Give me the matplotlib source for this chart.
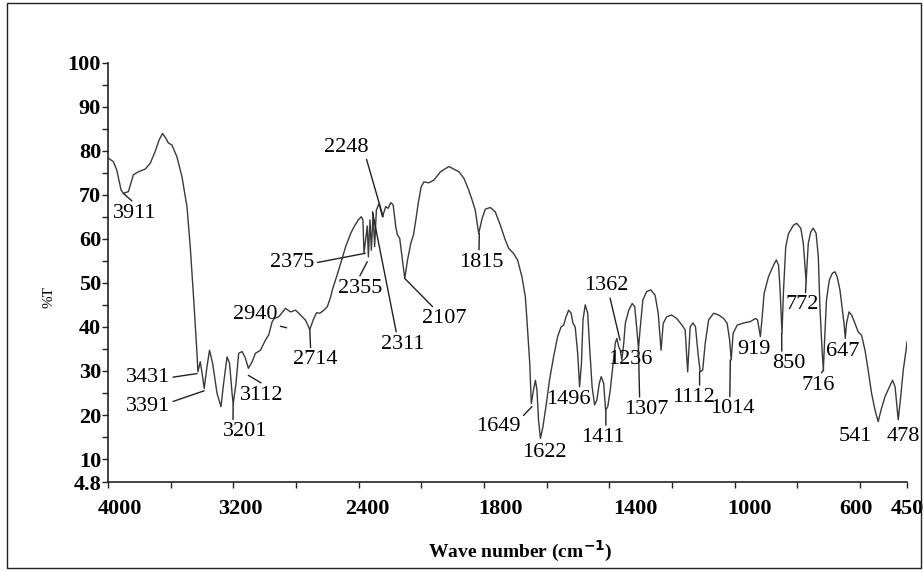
import numpy as np
import matplotlib
matplotlib.use('Agg')
import matplotlib.pyplot as plt
import matplotlib.transforms as mtransforms
from matplotlib.patches import Rectangle

# IR spectrum: wave number (cm-1) and %T
wavenumber = [3998, 3966, 3944, 3917, 3902, 3870, 3838, 3806, 3763, 3731, 3699, 3674, 3652, 3631,
              3614, 3592, 3560, 3528, 3496, 3475, 3454, 3432, 3426, 3411, 3396, 3386, 3368, 3352,
              3332, 3304, 3279, 3262, 3240, 3224, 3208, 3201, 3183, 3166, 3144, 3123, 3104, 3080,
              3059, 3027, 2995, 2974, 2952, 2938, 2910, 2867, 2835, 2803, 2771, 2739, 2712, 2690,
              2669, 2647, 2622, 2600, 2579, 2568, 2541, 2515, 2483, 2451, 2430, 2402, 2383, 2373,
              2366, 2345, 2338, 2328, 2319, 2308, 2298, 2287, 2270, 2248, 2227, 2212, 2195, 2180,
              2163, 2153, 2138, 2121, 2106, 2088, 2067, 2050, 2035, 2020, 2001, 1992, 1976, 1960,
              1939, 1912, 1896, 1880, 1864, 1849, 1838, 1828, 1817, 1806, 1796, 1780, 1764, 1748,
              1732, 1721, 1706, 1693, 1679, 1668, 1663, 1654, 1649, 1642, 1636, 1631, 1626, 1620,
              1612, 1601, 1591, 1578, 1565, 1554, 1546, 1538, 1530, 1522, 1516, 1509, 1501, 1495,
              1489, 1484, 1477, 1469, 1463, 1455, 1447, 1440, 1432, 1426, 1418, 1412, 1405, 1397,
              1388, 1381, 1376, 1370, 1365, 1360, 1354, 1349, 1338, 1327, 1319, 1312, 1307, 1302,
              1293, 1281, 1268, 1254, 1244, 1235, 1228, 1217, 1201, 1185, 1168, 1158, 1150, 1142,
              1133, 1125, 1117, 1110, 1102, 1094, 1083, 1067, 1051, 1035, 1024, 1016, 1011, 1005,
              992, 971, 950, 934, 927, 918, 913, 906, 892, 876, 867, 860, 855, 849, 844, 837, 828,
              812, 802, 789, 781, 772, 765, 757, 749, 740, 733, 728, 721, 717, 712, 707, 698, 688,
              680, 673, 664, 656, 651, 647, 643, 635, 627, 616, 606, 595, 584, 574, 563, 552, 542,
              533, 520, 506, 496, 488, 483, 478, 470, 462, 453, 450]
transmittance = [78.3, 77.5, 75.6, 71.1, 70.3, 70.7, 74.5, 75.2, 75.8, 77.1, 79.8, 82.4, 83.9, 82.8,
                 81.7, 81.3, 78.6, 74.1, 67.3, 58.2, 46.8, 34.0, 29.8, 32.1, 28.7, 26.0, 31.0, 34.7,
                 31.7, 24.9, 21.9, 27.2, 33.2, 31.7, 24.9, 22.5, 27.2, 34.0, 34.4, 32.9, 30.6, 32.1,
                 34.0, 34.7, 37.0, 38.2, 41.2, 41.9, 42.3, 44.2, 43.4, 43.8, 42.7, 41.5, 39.4, 41.6,
                 43.2, 43.1, 43.8, 44.6, 46.8, 48.4, 51.4, 54.4, 58.2, 61.2, 62.7, 64.3, 65.0, 64.3,
                 56.7, 62.9, 55.9, 64.3, 57.4, 65.8, 58.2, 66.5, 68.0, 65.0, 67.3, 66.9, 68.2, 67.7,
                 62.7, 60.9, 60.1, 55.2, 51.0, 55.2, 59.0, 60.9, 64.3, 68.0, 71.8, 72.9, 72.7, 73.3,
                 75.2, 76.4, 75.8, 75.2, 73.7, 71.1, 68.8, 66.5, 61.2, 64.6, 66.7, 67.1, 66.1, 63.1,
                 59.7, 57.8, 56.7, 55.2, 51.4, 46.8, 41.6, 31.7, 22.6, 25.7, 27.9, 25.7, 18.9, 14.7,
                 17.3, 22.6, 27.9, 33.2, 37.8, 40.0, 40.4, 42.3, 43.8, 43.1, 40.8, 40.0, 34.0, 26.4,
                 31.7, 41.6, 45.0, 43.1, 35.5, 26.4, 22.3, 23.4, 27.2, 28.7, 27.2, 21.1, 21.9, 25.7,
                 31.7, 36.3, 37.4, 35.5, 34.7, 32.5, 36.3, 40.8, 43.8, 45.3, 44.6, 39.3, 35.0, 39.3,
                 46.1, 48.0, 48.4, 47.2, 43.1, 34.7, 40.8, 42.3, 42.7, 41.9, 40.4, 39.3, 29.8, 40.0,
                 40.9, 40.0, 34.0, 29.8, 30.2, 36.3, 41.6, 43.1, 42.7, 41.9, 40.8, 37.0, 32.5, 38.5,
                 40.4, 40.9, 41.2, 41.9, 41.6, 37.8, 41.6, 47.6, 51.4, 54.0, 55.2, 54.0, 48.4, 38.5,
                 48.4, 58.2, 61.2, 63.1, 63.5, 62.4, 59.0, 50.3, 59.0, 61.6, 62.4, 61.2, 55.9, 44.6,
                 34.7, 30.2, 38.5, 46.1, 50.6, 52.2, 52.5, 51.4, 48.4, 43.8, 40.8, 37.4, 40.8, 43.4,
                 42.7, 40.8, 38.9, 38.1, 34.7, 30.2, 24.9, 21.1, 18.5, 21.1, 24.2, 26.4, 27.9, 26.4,
                 22.6, 18.9, 24.2, 30.2, 34.7, 36.6]

# peak labels
peak_labels = ['3911', '3431', '3391', '3201', '3112', '2940', '2714', '2375', '2355', '2311',
               '2248', '2107', '1815', '1362', '1236', '1307', '1496', '1649', '1622', '1411',
               '1112', '1014', '919', '850', '772', '716', '647', '541', '478']
peak_x = [3902, 3432, 3386, 3201, 3104, 2860, 2712, 2358, 2345, 2312,
          2244, 2106, 1815, 1366, 1236, 1307, 1495, 1647, 1620, 1411,
          1112, 1014, 918, 850, 772, 716, 647, 541, 478]
peak_y = [70.3, 29.4, 25.5, 22.5, 29.0, 39.8, 39.4, 56.7, 54.8, 66.1,
          65.0, 51.0, 61.2, 37.0, 34.7, 35.0, 26.4, 21.9, 14.7, 21.0,
          29.8, 32.5, 37.8, 38.5, 50.3, 30.2, 37.4, 18.5, 18.9]

x_ticks = [4000, 3600, 3200, 2800, 2400, 2000, 1800, 1600, 1400, 1200, 1000, 800, 600, 450]
x_tick_labels = ['4000', '', '3200', '', '2400', '', '1800', '', '1400', '', '1000', '', '600', '450']
y_ticks = [4.8, 10, 20, 30, 40, 50, 60, 70, 80, 90, 100]
y_tick_labels = ['4.8', '10', '20', '30', '40', '50', '60', '70', '80', '90', '100']

# where each label text sits (wave number, %T) and where its leader leaves the text box
label_pos = [(3827, 65.8), (3744, 28.5), (3744, 22.0), (3123, 16.2), (3021, 24.5), (3059, 42.7),
             (2675, 32.5), (2822, 54.5), (2393, 48.8), (2118, 36.1), (2477, 80.8), (1927, 41.8),
             (1809, 54.7), (1411, 49.3), (1333, 32.5), (1282, 21.3), (1531, 23.6), (1754, 17.5),
             (1606, 11.5), (1421, 14.9), (1131, 24.0), (1007, 21.4), (937, 34.8), (826, 31.7),
             (785, 45.0), (735, 26.8), (656, 34.4), (614, 15.2), (461, 15.2)]
leader_rel = [(0.5, 1), (1, 0.5), (1, 0.7), (0.22, 1), (0.6, 1), (0.9, 0), (0.39, 1), (1, 0.5),
              (0.47, 1), (0.36, 1), (0.93, 0), (0.3, 1), (0.45, 1), (0.58, 0), None, (0.35, 1),
              None, (1, 0.9), None, (0.57, 1), (0.64, 1), (0.44, 1), None, (0.28, 1), (0.6, 1),
              (0.55, 1), None, None, None]
label_dx = [12, 7, 9, 16, 26, 15, -4, 0]  # px shift of the x tick labels, as in the picture


def fwd(w):
    w = np.asarray(w, dtype=float)
    return np.where(w > 2000, 2000 + (w - 2000) / 2.0, w)


def inv(u):
    u = np.asarray(u, dtype=float)
    return np.where(u > 2000, 2000 + (u - 2000) * 2.0, u)


serif = 'Liberation Serif'
plt.rcParams['font.family'] = serif

fig = plt.figure(figsize=(9.23, 5.71), dpi=100)
ax = fig.add_axes([108 / 923, 1 - 482 / 571, 799 / 923, 419.5 / 571])

ax.plot(wavenumber, transmittance, color='#3a3a3a', lw=1.0)

ax.set_xscale('function', functions=(fwd, inv))
ax.set_xlim(4000, 450)
ax.set_ylim(4.8, 100)

ax.set_xticks(x_ticks)
ax.set_xticklabels(x_tick_labels, fontsize=16, fontweight='bold')
ax.set_yticks(y_ticks)
ax.set_yticklabels(y_tick_labels, fontsize=16, fontweight='bold')
ax.set_yticks(np.arange(15, 100, 10), minor=True)
ax.tick_params(axis='both', which='both', direction='out', length=4, width=1, color='#222222')
ax.tick_params(axis='x', pad=8)
ax.tick_params(axis='y', pad=1)

shown = [t for t in ax.get_xticklabels() if t.get_text() != '']
for t, dx in zip(shown, label_dx):
    t.set_transform(t.get_transform() + mtransforms.ScaledTranslation(dx / 100.0, 0, fig.dpi_scale_trans))

for side in ['top', 'right']:
    ax.spines[side].set_visible(False)
for side in ['left', 'bottom']:
    ax.spines[side].set_color('#222222')
    ax.spines[side].set_linewidth(1.2)

ax.set_xlabel('Wave number (cm$^{\\mathbf{-1}}$)', fontsize=14, fontweight='bold')
ax.xaxis.set_label_coords(0.516, -0.135)
ax.set_ylabel('%T', fontsize=11)
ax.yaxis.set_label_coords(-0.066, 0.44)

for i in range(len(peak_labels)):
    if leader_rel[i] is None:
        ax.annotate(peak_labels[i], xy=label_pos[i], ha='center', va='center',
                    fontsize=16, annotation_clip=False)
    else:
        ax.annotate(peak_labels[i], xy=(peak_x[i], peak_y[i]), xytext=label_pos[i],
                    ha='center', va='center', fontsize=16, annotation_clip=False,
                    arrowprops=dict(arrowstyle='-', color='#222222', lw=1.0,
                                    shrinkA=0, shrinkB=0, relpos=leader_rel[i]))

fig.patches.append(Rectangle((7 / 923, 3 / 571), 914 / 923, 565 / 571, transform=fig.transFigure,
                             fill=False, edgecolor='#222222', lw=1.0))

fig.savefig('out.png', dpi=100)
